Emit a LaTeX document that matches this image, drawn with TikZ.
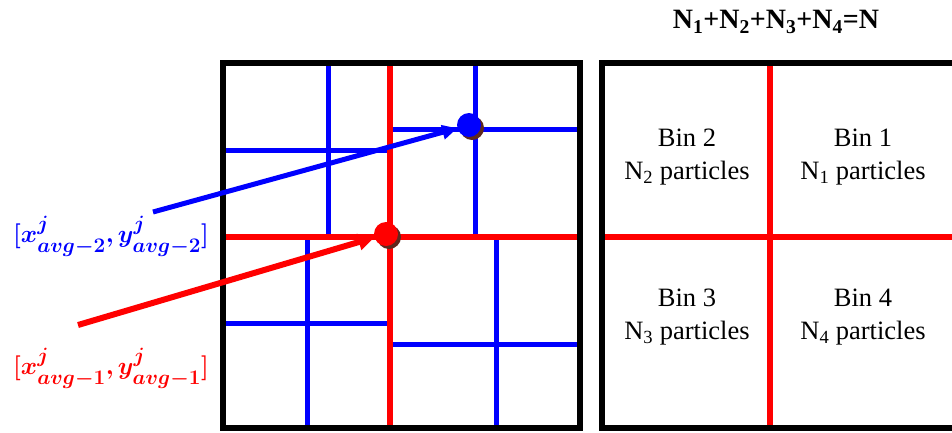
\documentclass[tikz,border=0pt]{standalone}
\usepackage{amsmath,amssymb,bm}
\usepackage{fontspec}
\setmainfont{Liberation Serif}
\usepackage{tikz}
\usetikzlibrary{arrows.meta,positioning,calc}
\definecolor{splitred}{RGB}{255,0,0}
\definecolor{splitblue}{RGB}{0,0,255}
\definecolor{dotshade}{RGB}{95,40,30}
\newcommand{\avgpos}[1]{$\bm{[x^{j}_{avg-#1},y^{j}_{avg-#1}]}$}

\begin{document}
\begin{tikzpicture}[x=1pt,y=-1pt,every node/.style={font=\fontsize{26.5}{33}\selectfont},
    redcut/.style={splitred,line width=6pt},
    bluecut/.style={splitblue,line width=5pt},
    frame/.style={black,line width=6pt},
    avgdot/.style={circle,inner sep=0pt,minimum size=24pt},
    avglabel/.style={font=\fontsize{30}{36}\selectfont}]
  \useasboundingbox (0,0) rectangle (952,432);
  % left panel: first split (red) and second split (blue)
  \foreach \x/\ya/\yb in {328/63/237,475/63/237,307/237/428,496/237/428}
    \draw[bluecut] (\x,\ya) -- (\x,\yb);
  \foreach \y/\xa/\xb in {150/223/390,129/390/580,323/223/390,344/390/580}
    \draw[bluecut] (\xa,\y) -- (\xb,\y);
  \draw[redcut] (223,237) -- (580,237);
  \draw[redcut] (390,63) -- (390,428);
  \draw[frame] (223,63) rectangle (580,428);
  % averages
  \fill[dotshade] (472,128) circle (12pt);
  \node[avgdot,fill=splitblue] (c2) at (469,125) {};
  \fill[dotshade] (389,237) circle (12pt);
  \node[avgdot,fill=splitred] (c1) at (386,234) {};
  \node[avglabel,text=splitblue] (l2) at (111,236) {\avgpos{2}};
  \node[avglabel,text=splitred] (l1) at (111,368) {\avgpos{1}};
  \coordinate (t2) at (153,212);
  \coordinate (t1) at (78,325);
  \draw[bluecut,-{Triangle[length=15pt,width=14pt]}] (t2) -- (c2);
  \draw[redcut,-{Triangle[length=16pt,width=16pt]}] (t1) -- (c1);
  % right panel: four bins
  \draw[redcut] (602,237) -- (960,237);
  \draw[redcut] (770,63) -- (770,428);
  \draw[frame] (602,63) rectangle (962,428);
  \node[align=center] (bin2) at (687,157) {Bin 2\\N\textsubscript{2} particles};
  \node[align=center] (bin1) at (863,157) {Bin 1\\N\textsubscript{1} particles};
  \node[align=center] (bin3) at (687,317) {Bin 3\\N\textsubscript{3} particles};
  \node[align=center] (bin4) at (863,317) {Bin 4\\N\textsubscript{4} particles};
  \node[font=\bfseries\fontsize{28}{32}\selectfont] (total) at (776,22)
    {N\textsubscript{1}+N\textsubscript{2}+N\textsubscript{3}+N\textsubscript{4}=N};
\end{tikzpicture}
\end{document}
